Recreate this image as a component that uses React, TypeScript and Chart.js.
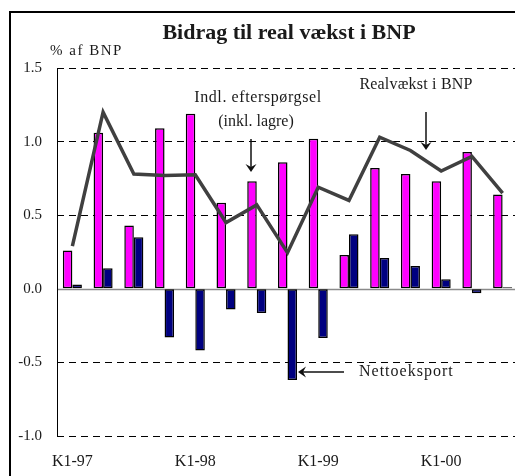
import React, { useEffect, useRef } from 'react';
import { Chart, registerables } from 'chart.js';

Chart.register(...registerables);

const quarters = [
  'K1-97', 'K2-97', 'K3-97', 'K4-97',
  'K1-98', 'K2-98', 'K3-98', 'K4-98',
  'K1-99', 'K2-99', 'K3-99', 'K4-99',
  'K1-00', 'K2-00', 'K3-00',
];
const domesticDemand = [0.26, 1.06, 0.43, 1.09, 1.19, 0.585, 0.73, 0.86, 1.02, 0.23, 0.82, 0.78, 0.73, 0.93, 0.64];
const netExports = [0.03, 0.14, 0.35, -0.33, -0.42, -0.14, -0.165, -0.62, -0.335, 0.37, 0.21, 0.155, 0.065, -0.03, 0.01];
const realGrowth = [0.29, 1.2, 0.78, 0.77, 0.775, 0.45, 0.57, 0.245, 0.69, 0.6, 1.03, 0.94, 0.8, 0.9, 0.65];
const yMin = -1.0;
const yMax = 1.5;
const yStep = 0.5;

const SERIF = '"Liberation Serif", "Times New Roman", serif';

function arrowHead(ctx: CanvasRenderingContext2D, x: number, y: number, dir: 'down' | 'left') {
  ctx.beginPath();
  if (dir === 'down') {
    ctx.moveTo(x, y);
    ctx.lineTo(x - 5.5, y - 8);
    ctx.lineTo(x, y - 5);
    ctx.lineTo(x + 5.5, y - 8);
  } else {
    ctx.moveTo(x, y);
    ctx.lineTo(x + 8, y - 5.5);
    ctx.lineTo(x + 5, y);
    ctx.lineTo(x + 8, y + 5.5);
  }
  ctx.closePath();
  ctx.fill();
}

function text(ctx: any, s: string, x: number, y: number, font: string, align: CanvasTextAlign, spacing = 0) {
  ctx.save();
  ctx.font = font;
  ctx.textAlign = align;
  ctx.textBaseline = 'middle';
  ctx.fillStyle = '#1a1a1a';
  if ('letterSpacing' in ctx) ctx.letterSpacing = spacing + 'px';
  ctx.fillText(s, x, y);
  ctx.restore();
}

const decorations = {
  id: 'decorations',
  beforeDatasetsDraw(chart: any) {
    const { ctx, chartArea, scales } = chart;
    const y0 = Math.round(scales.y.getPixelForValue(0)) + 0.5;
    ctx.save();
    ctx.strokeStyle = '#8a8a8a';
    ctx.lineWidth = 1.5;
    ctx.beginPath();
    ctx.moveTo(chartArea.left, y0);
    ctx.lineTo(chartArea.right, y0);
    ctx.stroke();
    ctx.strokeStyle = '#000';
    ctx.lineWidth = 1;
    ctx.beginPath();
    ctx.moveTo(chartArea.left + 0.5, chartArea.top);
    ctx.lineTo(chartArea.left + 0.5, chartArea.bottom);
    ctx.stroke();
    ctx.restore();
  },
  afterDraw(chart: any) {
    const { ctx } = chart;
    ctx.save();
    // outer frame (right and bottom edges lie outside the picture)
    ctx.strokeStyle = '#000';
    ctx.lineWidth = 2;
    ctx.beginPath();
    ctx.moveTo(10, 480);
    ctx.lineTo(10, 12);
    ctx.lineTo(545, 12);
    ctx.stroke();

    text(ctx, 'Bidrag til real vækst i BNP', 289, 33, `bold 22px ${SERIF}`, 'center');
    text(ctx, '% af BNP', 50, 51, `15px ${SERIF}`, 'left', 1.5);

    text(ctx, 'Indl. efterspørgsel', 258, 98, `16px ${SERIF}`, 'center', 0.6);
    text(ctx, '(inkl. lagre)', 256, 122, `16px ${SERIF}`, 'center');
    text(ctx, 'Realvækst i BNP', 416, 85, `16px ${SERIF}`, 'center', 0.2);
    text(ctx, 'Nettoeksport', 359, 372, `16px ${SERIF}`, 'left', 1);

    ctx.strokeStyle = '#111';
    ctx.fillStyle = '#111';
    ctx.lineWidth = 1.5;
    // arrow: Indl. efterspørgsel
    ctx.beginPath();
    ctx.moveTo(251, 139);
    ctx.lineTo(251, 168);
    ctx.stroke();
    arrowHead(ctx, 251, 172, 'down');
    // arrow: Realvækst i BNP
    ctx.beginPath();
    ctx.moveTo(426, 112);
    ctx.lineTo(426, 146);
    ctx.stroke();
    arrowHead(ctx, 426, 150, 'down');
    // arrow: Nettoeksport
    ctx.beginPath();
    ctx.moveTo(344, 372);
    ctx.lineTo(302, 372);
    ctx.stroke();
    arrowHead(ctx, 298, 372, 'left');
    ctx.restore();
  },
};

export default function App() {
  const ref = useRef<HTMLCanvasElement>(null);

  useEffect(() => {
    const canvas = ref.current;
    if (!canvas) return;
    const chart = new Chart(canvas, {
      type: 'bar',
      data: {
        labels: quarters,
        datasets: [
          {
            type: 'line',
            label: 'Realvækst i BNP',
            data: realGrowth,
            borderColor: '#404040',
            borderWidth: 3.5,
            pointRadius: 0,
            tension: 0,
            fill: false,
            order: 1,
          } as any,
          {
            type: 'bar',
            label: 'Indl. efterspørgsel (inkl. lagre)',
            data: domesticDemand,
            backgroundColor: '#ff00ff',
            borderColor: '#000',
            borderWidth: 1.5,
            borderSkipped: false,
            categoryPercentage: 0.62,
            barPercentage: 1.0,
            order: 2,
          },
          {
            type: 'bar',
            label: 'Nettoeksport',
            data: netExports,
            backgroundColor: '#000080',
            borderColor: '#000',
            borderWidth: 1.5,
            borderSkipped: false,
            categoryPercentage: 0.62,
            barPercentage: 1.0,
            order: 2,
          },
        ],
      },
      options: {
        responsive: false,
        animation: false,
        devicePixelRatio: 1,
        layout: { padding: { left: 0, top: 68, right: 22, bottom: 0 } },
        plugins: {
          legend: { display: false },
          tooltip: { enabled: false },
          title: { display: false },
        },
        scales: {
          x: {
            type: 'category',
            offset: true,
            grid: { display: false, drawTicks: false },
            border: { display: false },
            ticks: {
              autoSkip: false,
              maxRotation: 0,
              padding: 16,
              color: '#1a1a1a',
              font: { family: SERIF, size: 16 },
              callback: function (this: any, value: any) {
                const lbl = this.getLabelForValue(value) as string;
                return lbl.startsWith('K1') ? lbl : '';
              },
            },
            afterFit: (scale: any) => {
              scale.height = 40;
            },
          },
          y: {
            min: yMin,
            max: yMax,
            ticks: {
              stepSize: yStep,
              padding: 15,
              color: '#1a1a1a',
              font: { family: SERIF, size: 15 },
              callback: (v: any) => Number(v).toFixed(1),
            },
            grid: {
              drawTicks: false,
              lineWidth: 1,
              color: (c: any) => (c.tick && c.tick.value === 0 ? 'rgba(0,0,0,0)' : '#000'),
            },
            border: { display: false, dash: [7, 5] },
            afterFit: (scale: any) => {
              scale.width = 57;
            },
          },
        },
      },
      plugins: [decorations],
    });
    return () => chart.destroy();
  }, []);

  return (
    <div
      style={{
        position: 'fixed',
        left: 0,
        top: 0,
        width: 515,
        height: 476,
        overflow: 'hidden',
        background: '#fff',
      }}
    >
      <canvas ref={ref} width={540} height={476} style={{ display: 'block' }} />
    </div>
  );
}
